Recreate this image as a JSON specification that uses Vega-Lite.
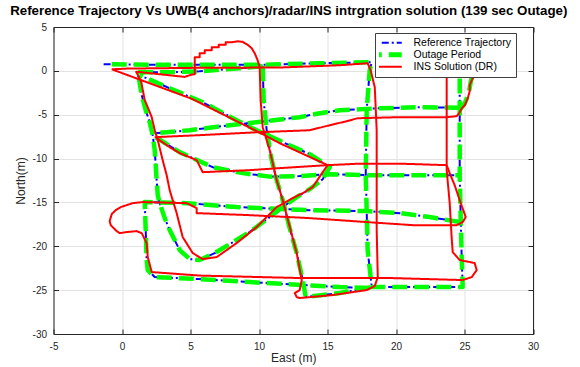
{
  "$schema": "https://vega.github.io/schema/vega-lite/v6.json",
  "width": 479.5,
  "height": 307,
  "autosize": "none",
  "padding": {"left": 53.5, "top": 27, "right": 47, "bottom": 33},
  "background": "white",
  "title": {
    "text": "Reference Trajectory Vs UWB(4 anchors)/radar/INS intrgration solution (139 sec Outage)",
    "font": "Liberation Sans", "fontSize": 13.3, "fontWeight": "bold", "color": "#000000",
    "anchor": "middle", "baseline": "alphabetic", "offset": 1, "dx": -4.5, "dy": 7
  },
  "datasets": {
    "reference": [
      {"s":"Reference Trajectory","g":"b1","E":-1.34,"N":0.75},
      {"s":"Reference Trajectory","g":"b1","E":2.02,"N":0.69},
      {"s":"Reference Trajectory","g":"b1","E":5.67,"N":0.69},
      {"s":"Reference Trajectory","g":"b1","E":10.27,"N":0.69},
      {"s":"Reference Trajectory","g":"b1","E":14.43,"N":0.87},
      {"s":"Reference Trajectory","g":"b1","E":18.23,"N":0.98},
      {"s":"Reference Trajectory","g":"b1","E":18.08,"N":0.07},
      {"s":"Reference Trajectory","g":"b1","E":17.86,"N":-4.49},
      {"s":"Reference Trajectory","g":"b1","E":17.79,"N":-11.89},
      {"s":"Reference Trajectory","g":"b1","E":17.86,"N":-15.88},
      {"s":"Reference Trajectory","g":"b1","E":17.93,"N":-20.43},
      {"s":"Reference Trajectory","g":"b1","E":18.23,"N":-24.65},
      {"s":"Reference Trajectory","g":"b1","E":21.73,"N":-24.65},
      {"s":"Reference Trajectory","g":"b1","E":24.87,"N":-24.65},
      {"s":"Reference Trajectory","g":"b1","E":24.80,"N":-21.57},
      {"s":"Reference Trajectory","g":"b1","E":24.73,"N":-17.24},
      {"s":"Reference Trajectory","g":"b1","E":24.65,"N":-11.89},
      {"s":"Reference Trajectory","g":"b1","E":24.65,"N":-4.26},
      {"s":"Reference Trajectory","g":"b1","E":24.65,"N":0.52},

      {"s":"Reference Trajectory","g":"b2","E":24.65,"N":-4.20},
      {"s":"Reference Trajectory","g":"b2","E":21.73,"N":-4.15},
      {"s":"Reference Trajectory","g":"b2","E":18.81,"N":-4.26},
      {"s":"Reference Trajectory","g":"b2","E":15.89,"N":-4.49},
      {"s":"Reference Trajectory","g":"b2","E":14.43,"N":-4.83},
      {"s":"Reference Trajectory","g":"b2","E":12.97,"N":-5.28},
      {"s":"Reference Trajectory","g":"b2","E":10.42,"N":-5.74},
      {"s":"Reference Trajectory","g":"b2","E":7.86,"N":-6.20},
      {"s":"Reference Trajectory","g":"b2","E":4.94,"N":-6.77},
      {"s":"Reference Trajectory","g":"b2","E":2.39,"N":-7.11},

      {"s":"Reference Trajectory","g":"b3","E":10.27,"N":0.52},
      {"s":"Reference Trajectory","g":"b3","E":8.59,"N":0.30},
      {"s":"Reference Trajectory","g":"b3","E":5.67,"N":-0.05},
      {"s":"Reference Trajectory","g":"b3","E":3.48,"N":-0.16},
      {"s":"Reference Trajectory","g":"b3","E":1.07,"N":-0.16},
      {"s":"Reference Trajectory","g":"b3","E":1.22,"N":-0.73},
      {"s":"Reference Trajectory","g":"b3","E":1.44,"N":-2.78},
      {"s":"Reference Trajectory","g":"b3","E":1.73,"N":-4.49},
      {"s":"Reference Trajectory","g":"b3","E":2.02,"N":-5.85},
      {"s":"Reference Trajectory","g":"b3","E":2.24,"N":-7.34},
      {"s":"Reference Trajectory","g":"b3","E":2.39,"N":-9.04},
      {"s":"Reference Trajectory","g":"b3","E":2.46,"N":-10.75},
      {"s":"Reference Trajectory","g":"b3","E":2.53,"N":-12.46},
      {"s":"Reference Trajectory","g":"b3","E":2.61,"N":-14.17},
      {"s":"Reference Trajectory","g":"b3","E":2.75,"N":-15.08},
      {"s":"Reference Trajectory","g":"b3","E":3.12,"N":-16.79},
      {"s":"Reference Trajectory","g":"b3","E":3.48,"N":-18.15},
      {"s":"Reference Trajectory","g":"b3","E":4.21,"N":-20.43},
      {"s":"Reference Trajectory","g":"b3","E":4.94,"N":-21.46},
      {"s":"Reference Trajectory","g":"b3","E":5.67,"N":-21.57},
      {"s":"Reference Trajectory","g":"b3","E":6.77,"N":-20.77},
      {"s":"Reference Trajectory","g":"b3","E":7.86,"N":-19.75},
      {"s":"Reference Trajectory","g":"b3","E":9.32,"N":-18.38},
      {"s":"Reference Trajectory","g":"b3","E":10.78,"N":-16.67},
      {"s":"Reference Trajectory","g":"b3","E":11.73,"N":-15.53},
      {"s":"Reference Trajectory","g":"b3","E":12.75,"N":-14.40},
      {"s":"Reference Trajectory","g":"b3","E":13.70,"N":-13.49},
      {"s":"Reference Trajectory","g":"b3","E":14.65,"N":-12.35},
      {"s":"Reference Trajectory","g":"b3","E":15.16,"N":-10.98},
      {"s":"Reference Trajectory","g":"b3","E":13.70,"N":-9.50},
      {"s":"Reference Trajectory","g":"b3","E":11.73,"N":-8.13},
      {"s":"Reference Trajectory","g":"b3","E":9.83,"N":-6.77},
      {"s":"Reference Trajectory","g":"b3","E":8.37,"N":-5.63},
      {"s":"Reference Trajectory","g":"b3","E":5.89,"N":-3.58},
      {"s":"Reference Trajectory","g":"b3","E":3.48,"N":-1.98},
      {"s":"Reference Trajectory","g":"b3","E":1.29,"N":-0.50},

      {"s":"Reference Trajectory","g":"b4","E":2.46,"N":-7.57},
      {"s":"Reference Trajectory","g":"b4","E":4.21,"N":-9.27},
      {"s":"Reference Trajectory","g":"b4","E":6.62,"N":-10.98},
      {"s":"Reference Trajectory","g":"b4","E":8.81,"N":-11.66},
      {"s":"Reference Trajectory","g":"b4","E":10.78,"N":-12.06},
      {"s":"Reference Trajectory","g":"b4","E":12.97,"N":-12.00},
      {"s":"Reference Trajectory","g":"b4","E":15.16,"N":-11.78},
      {"s":"Reference Trajectory","g":"b4","E":18.08,"N":-11.89},
      {"s":"Reference Trajectory","g":"b4","E":21.73,"N":-11.89},
      {"s":"Reference Trajectory","g":"b4","E":24.65,"N":-11.89},

      {"s":"Reference Trajectory","g":"b5","E":24.65,"N":-17.24},
      {"s":"Reference Trajectory","g":"b5","E":22.46,"N":-16.67},
      {"s":"Reference Trajectory","g":"b5","E":20.27,"N":-16.22},
      {"s":"Reference Trajectory","g":"b5","E":17.86,"N":-15.99},
      {"s":"Reference Trajectory","g":"b5","E":13.70,"N":-15.88},
      {"s":"Reference Trajectory","g":"b5","E":8.37,"N":-15.53},
      {"s":"Reference Trajectory","g":"b5","E":4.72,"N":-15.08},
      {"s":"Reference Trajectory","g":"b5","E":1.66,"N":-14.96},
      {"s":"Reference Trajectory","g":"b5","E":1.73,"N":-18.15},
      {"s":"Reference Trajectory","g":"b5","E":1.80,"N":-21.57},
      {"s":"Reference Trajectory","g":"b5","E":1.88,"N":-22.71},
      {"s":"Reference Trajectory","g":"b5","E":2.39,"N":-23.51},
      {"s":"Reference Trajectory","g":"b5","E":5.67,"N":-23.74},
      {"s":"Reference Trajectory","g":"b5","E":9.32,"N":-24.08},
      {"s":"Reference Trajectory","g":"b5","E":13.19,"N":-24.42},
      {"s":"Reference Trajectory","g":"b5","E":15.89,"N":-24.65},
      {"s":"Reference Trajectory","g":"b5","E":18.15,"N":-24.76},

      {"s":"Reference Trajectory","g":"b6","E":10.27,"N":0.52},
      {"s":"Reference Trajectory","g":"b6","E":10.34,"N":-3.35},
      {"s":"Reference Trajectory","g":"b6","E":10.56,"N":-6.77},
      {"s":"Reference Trajectory","g":"b6","E":10.93,"N":-10.18},
      {"s":"Reference Trajectory","g":"b6","E":11.29,"N":-12.46},
      {"s":"Reference Trajectory","g":"b6","E":11.73,"N":-14.74},
      {"s":"Reference Trajectory","g":"b6","E":12.24,"N":-17.93},
      {"s":"Reference Trajectory","g":"b6","E":12.75,"N":-20.77},
      {"s":"Reference Trajectory","g":"b6","E":13.19,"N":-23.85},
      {"s":"Reference Trajectory","g":"b6","E":13.41,"N":-25.79},
      {"s":"Reference Trajectory","g":"b6","E":15.89,"N":-25.33},
      {"s":"Reference Trajectory","g":"b6","E":18.30,"N":-24.65}
    ],
    "outage": [
      {"s":"Outage Period","g":"o1","E":-0.75,"N":0.75},
      {"s":"Outage Period","g":"o1","E":2.02,"N":0.69},
      {"s":"Outage Period","g":"o1","E":5.67,"N":0.69},
      {"s":"Outage Period","g":"o1","E":10.27,"N":0.69},
      {"s":"Outage Period","g":"o1","E":14.43,"N":0.87},
      {"s":"Outage Period","g":"o1","E":18.23,"N":0.98},
      {"s":"Outage Period","g":"o1","E":18.08,"N":0.07},
      {"s":"Outage Period","g":"o1","E":17.86,"N":-4.49},
      {"s":"Outage Period","g":"o1","E":17.79,"N":-11.89},
      {"s":"Outage Period","g":"o1","E":17.86,"N":-15.88},
      {"s":"Outage Period","g":"o1","E":17.93,"N":-20.43},
      {"s":"Outage Period","g":"o1","E":18.23,"N":-24.65},
      {"s":"Outage Period","g":"o1","E":21.73,"N":-24.65},
      {"s":"Outage Period","g":"o1","E":24.87,"N":-24.65},
      {"s":"Outage Period","g":"o1","E":24.80,"N":-21.57},
      {"s":"Outage Period","g":"o1","E":24.73,"N":-17.24},
      {"s":"Outage Period","g":"o1","E":24.65,"N":-11.89},
      {"s":"Outage Period","g":"o1","E":24.65,"N":-4.26},
      {"s":"Outage Period","g":"o1","E":24.65,"N":0.52},

      {"s":"Outage Period","g":"o2","E":24.65,"N":-4.20},
      {"s":"Outage Period","g":"o2","E":21.73,"N":-4.15},
      {"s":"Outage Period","g":"o2","E":18.81,"N":-4.26},
      {"s":"Outage Period","g":"o2","E":15.89,"N":-4.49},
      {"s":"Outage Period","g":"o2","E":14.43,"N":-4.83},
      {"s":"Outage Period","g":"o2","E":12.97,"N":-5.28},
      {"s":"Outage Period","g":"o2","E":10.42,"N":-5.74},
      {"s":"Outage Period","g":"o2","E":7.86,"N":-6.20},
      {"s":"Outage Period","g":"o2","E":4.94,"N":-6.77},
      {"s":"Outage Period","g":"o2","E":2.39,"N":-7.11},

      {"s":"Outage Period","g":"o3","E":10.27,"N":0.52},
      {"s":"Outage Period","g":"o3","E":8.59,"N":0.30},
      {"s":"Outage Period","g":"o3","E":5.67,"N":-0.05},
      {"s":"Outage Period","g":"o3","E":3.48,"N":-0.16},
      {"s":"Outage Period","g":"o3","E":1.07,"N":-0.16},
      {"s":"Outage Period","g":"o3","E":1.22,"N":-0.73},
      {"s":"Outage Period","g":"o3","E":1.44,"N":-2.78},
      {"s":"Outage Period","g":"o3","E":1.73,"N":-4.49},
      {"s":"Outage Period","g":"o3","E":2.02,"N":-5.85},
      {"s":"Outage Period","g":"o3","E":2.24,"N":-7.34},
      {"s":"Outage Period","g":"o3","E":2.39,"N":-9.04},
      {"s":"Outage Period","g":"o3","E":2.46,"N":-10.75},
      {"s":"Outage Period","g":"o3","E":2.53,"N":-12.46},
      {"s":"Outage Period","g":"o3","E":2.61,"N":-14.17},
      {"s":"Outage Period","g":"o3","E":2.75,"N":-15.08},
      {"s":"Outage Period","g":"o3","E":3.12,"N":-16.79},
      {"s":"Outage Period","g":"o3","E":3.48,"N":-18.15},
      {"s":"Outage Period","g":"o3","E":4.21,"N":-20.43},
      {"s":"Outage Period","g":"o3","E":4.94,"N":-21.46},
      {"s":"Outage Period","g":"o3","E":5.67,"N":-21.57},
      {"s":"Outage Period","g":"o3","E":6.77,"N":-20.77},
      {"s":"Outage Period","g":"o3","E":7.86,"N":-19.75},
      {"s":"Outage Period","g":"o3","E":9.32,"N":-18.38},
      {"s":"Outage Period","g":"o3","E":10.78,"N":-16.67},
      {"s":"Outage Period","g":"o3","E":11.73,"N":-15.53},
      {"s":"Outage Period","g":"o3","E":12.75,"N":-14.40},
      {"s":"Outage Period","g":"o3","E":13.70,"N":-13.49},
      {"s":"Outage Period","g":"o3","E":14.65,"N":-12.35},
      {"s":"Outage Period","g":"o3","E":15.16,"N":-10.98},
      {"s":"Outage Period","g":"o3","E":13.70,"N":-9.50},
      {"s":"Outage Period","g":"o3","E":11.73,"N":-8.13},
      {"s":"Outage Period","g":"o3","E":9.83,"N":-6.77},
      {"s":"Outage Period","g":"o3","E":8.37,"N":-5.63},
      {"s":"Outage Period","g":"o3","E":5.89,"N":-3.58},
      {"s":"Outage Period","g":"o3","E":3.48,"N":-1.98},
      {"s":"Outage Period","g":"o3","E":1.29,"N":-0.50},

      {"s":"Outage Period","g":"o4","E":2.46,"N":-7.57},
      {"s":"Outage Period","g":"o4","E":4.21,"N":-9.27},
      {"s":"Outage Period","g":"o4","E":6.62,"N":-10.98},
      {"s":"Outage Period","g":"o4","E":8.81,"N":-11.66},
      {"s":"Outage Period","g":"o4","E":10.78,"N":-12.06},
      {"s":"Outage Period","g":"o4","E":12.97,"N":-12.00},
      {"s":"Outage Period","g":"o4","E":15.16,"N":-11.78},
      {"s":"Outage Period","g":"o4","E":18.08,"N":-11.89},
      {"s":"Outage Period","g":"o4","E":21.73,"N":-11.89},
      {"s":"Outage Period","g":"o4","E":24.65,"N":-11.89},

      {"s":"Outage Period","g":"o5","E":24.65,"N":-17.24},
      {"s":"Outage Period","g":"o5","E":22.46,"N":-16.67},
      {"s":"Outage Period","g":"o5","E":20.27,"N":-16.22},
      {"s":"Outage Period","g":"o5","E":17.86,"N":-15.99},
      {"s":"Outage Period","g":"o5","E":13.70,"N":-15.88},
      {"s":"Outage Period","g":"o5","E":8.37,"N":-15.53},
      {"s":"Outage Period","g":"o5","E":4.72,"N":-15.08},
      {"s":"Outage Period","g":"o5","E":1.66,"N":-14.96},
      {"s":"Outage Period","g":"o5","E":1.73,"N":-18.15},
      {"s":"Outage Period","g":"o5","E":1.80,"N":-21.57},
      {"s":"Outage Period","g":"o5","E":1.88,"N":-22.71},
      {"s":"Outage Period","g":"o5","E":2.39,"N":-23.51},
      {"s":"Outage Period","g":"o5","E":5.67,"N":-23.74},
      {"s":"Outage Period","g":"o5","E":9.32,"N":-24.08},
      {"s":"Outage Period","g":"o5","E":13.19,"N":-24.42},
      {"s":"Outage Period","g":"o5","E":15.89,"N":-24.65},
      {"s":"Outage Period","g":"o5","E":18.15,"N":-24.76},

      {"s":"Outage Period","g":"o6","E":10.27,"N":0.52},
      {"s":"Outage Period","g":"o6","E":10.34,"N":-3.35},
      {"s":"Outage Period","g":"o6","E":10.56,"N":-6.77},
      {"s":"Outage Period","g":"o6","E":10.93,"N":-10.18},
      {"s":"Outage Period","g":"o6","E":11.29,"N":-12.46},
      {"s":"Outage Period","g":"o6","E":11.73,"N":-14.74},
      {"s":"Outage Period","g":"o6","E":12.24,"N":-17.93},
      {"s":"Outage Period","g":"o6","E":12.75,"N":-20.77},
      {"s":"Outage Period","g":"o6","E":13.19,"N":-23.85},
      {"s":"Outage Period","g":"o6","E":13.41,"N":-25.79},
      {"s":"Outage Period","g":"o6","E":15.89,"N":-25.33},
      {"s":"Outage Period","g":"o6","E":18.30,"N":-24.65},

      {"s":"Outage Period","g":"o7","E":24.65,"N":-4.49},
      {"s":"Outage Period","g":"o7","E":25.02,"N":-3.69},
      {"s":"Outage Period","g":"o7","E":25.31,"N":-2.55},
      {"s":"Outage Period","g":"o7","E":25.45,"N":-1.31},
      {"s":"Outage Period","g":"o7","E":25.60,"N":-0.27},
      {"s":"Outage Period","g":"o7","E":25.82,"N":0.52}
    ],
    "ins": [
      {"s":"INS Solution (DR)","g":"r1","E":-0.75,"N":0.18},
      {"s":"INS Solution (DR)","g":"r1","E":0.42,"N":0.26},
      {"s":"INS Solution (DR)","g":"r1","E":5.67,"N":0.35},
      {"s":"INS Solution (DR)","g":"r1","E":11.51,"N":0.38},
      {"s":"INS Solution (DR)","g":"r1","E":15.89,"N":0.64},
      {"s":"INS Solution (DR)","g":"r1","E":17.93,"N":0.87},
      {"s":"INS Solution (DR)","g":"r1","E":18.15,"N":0.07},
      {"s":"INS Solution (DR)","g":"r1","E":18.45,"N":-1.87},
      {"s":"INS Solution (DR)","g":"r1","E":18.59,"N":-6.77},
      {"s":"INS Solution (DR)","g":"r1","E":18.59,"N":-12.46},
      {"s":"INS Solution (DR)","g":"r1","E":18.59,"N":-18.15},
      {"s":"INS Solution (DR)","g":"r1","E":18.67,"N":-23.51},
      {"s":"INS Solution (DR)","g":"r1","E":18.45,"N":-24.53},
      {"s":"INS Solution (DR)","g":"r1","E":17.86,"N":-24.99},
      {"s":"INS Solution (DR)","g":"r1","E":15.38,"N":-25.56},
      {"s":"INS Solution (DR)","g":"r1","E":12.97,"N":-25.90},
      {"s":"INS Solution (DR)","g":"r1","E":12.75,"N":-25.79},
      {"s":"INS Solution (DR)","g":"r1","E":12.61,"N":-25.33},
      {"s":"INS Solution (DR)","g":"r1","E":12.97,"N":-24.99},
      {"s":"INS Solution (DR)","g":"r1","E":13.12,"N":-23.85},
      {"s":"INS Solution (DR)","g":"r1","E":12.75,"N":-20.77},
      {"s":"INS Solution (DR)","g":"r1","E":11.73,"N":-14.74},
      {"s":"INS Solution (DR)","g":"r1","E":11.29,"N":-12.46},
      {"s":"INS Solution (DR)","g":"r1","E":10.78,"N":-9.04},
      {"s":"INS Solution (DR)","g":"r1","E":10.27,"N":-6.42},
      {"s":"INS Solution (DR)","g":"r1","E":10.12,"N":-3.35},
      {"s":"INS Solution (DR)","g":"r1","E":10.05,"N":0.41},
      {"s":"INS Solution (DR)","g":"r1","E":9.90,"N":1.21},
      {"s":"INS Solution (DR)","g":"r1","E":9.69,"N":2.00},
      {"s":"INS Solution (DR)","g":"r1","E":9.47,"N":2.57},
      {"s":"INS Solution (DR)","g":"r1","E":9.18,"N":2.97},
      {"s":"INS Solution (DR)","g":"r1","E":8.81,"N":3.31},
      {"s":"INS Solution (DR)","g":"r1","E":8.45,"N":3.37},
      {"s":"INS Solution (DR)","g":"r1","E":8.01,"N":3.26},
      {"s":"INS Solution (DR)","g":"r1","E":7.57,"N":3.26},
      {"s":"INS Solution (DR)","g":"r1","E":7.57,"N":2.97},
      {"s":"INS Solution (DR)","g":"r1","E":7.06,"N":2.97},
      {"s":"INS Solution (DR)","g":"r1","E":7.06,"N":2.69},
      {"s":"INS Solution (DR)","g":"r1","E":6.55,"N":2.69},
      {"s":"INS Solution (DR)","g":"r1","E":6.55,"N":2.35},
      {"s":"INS Solution (DR)","g":"r1","E":6.04,"N":2.35},
      {"s":"INS Solution (DR)","g":"r1","E":6.04,"N":2.00},
      {"s":"INS Solution (DR)","g":"r1","E":5.67,"N":2.00},
      {"s":"INS Solution (DR)","g":"r1","E":5.67,"N":1.55},
      {"s":"INS Solution (DR)","g":"r1","E":5.31,"N":1.55},
      {"s":"INS Solution (DR)","g":"r1","E":5.31,"N":-0.39},
      {"s":"INS Solution (DR)","g":"r1","E":5.09,"N":-0.42},
      {"s":"INS Solution (DR)","g":"r1","E":4.58,"N":-0.69},
      {"s":"INS Solution (DR)","g":"r1","E":1.04,"N":-0.10},
      {"s":"INS Solution (DR)","g":"r1","E":1.40,"N":-1.24},
      {"s":"INS Solution (DR)","g":"r1","E":1.66,"N":-3.35},
      {"s":"INS Solution (DR)","g":"r1","E":1.88,"N":-4.15},
      {"s":"INS Solution (DR)","g":"r1","E":2.17,"N":-5.28},
      {"s":"INS Solution (DR)","g":"r1","E":2.39,"N":-6.77},
      {"s":"INS Solution (DR)","g":"r1","E":2.61,"N":-7.90},
      {"s":"INS Solution (DR)","g":"r1","E":2.97,"N":-10.18},
      {"s":"INS Solution (DR)","g":"r1","E":3.26,"N":-11.89},
      {"s":"INS Solution (DR)","g":"r1","E":3.48,"N":-13.60},
      {"s":"INS Solution (DR)","g":"r1","E":3.99,"N":-16.22},
      {"s":"INS Solution (DR)","g":"r1","E":4.43,"N":-18.95},
      {"s":"INS Solution (DR)","g":"r1","E":5.16,"N":-20.77},
      {"s":"INS Solution (DR)","g":"r1","E":5.89,"N":-21.46},
      {"s":"INS Solution (DR)","g":"r1","E":6.91,"N":-21.23},
      {"s":"INS Solution (DR)","g":"r1","E":8.37,"N":-19.63},
      {"s":"INS Solution (DR)","g":"r1","E":9.83,"N":-17.81},
      {"s":"INS Solution (DR)","g":"r1","E":11.29,"N":-15.53},
      {"s":"INS Solution (DR)","g":"r1","E":12.46,"N":-14.51},
      {"s":"INS Solution (DR)","g":"r1","E":13.19,"N":-13.94},
      {"s":"INS Solution (DR)","g":"r1","E":13.92,"N":-13.26},
      {"s":"INS Solution (DR)","g":"r1","E":14.65,"N":-11.55},
      {"s":"INS Solution (DR)","g":"r1","E":15.01,"N":-10.75},
      {"s":"INS Solution (DR)","g":"r1","E":11.51,"N":-8.25},
      {"s":"INS Solution (DR)","g":"r1","E":10.27,"N":-7.22},
      {"s":"INS Solution (DR)","g":"r1","E":5.09,"N":-3.18},
      {"s":"INS Solution (DR)","g":"r1","E":-0.75,"N":0.18},

      {"s":"INS Solution (DR)","g":"r2","E":24.87,"N":-23.85},
      {"s":"INS Solution (DR)","g":"r2","E":19.54,"N":-23.62},
      {"s":"INS Solution (DR)","g":"r2","E":12.97,"N":-23.62},
      {"s":"INS Solution (DR)","g":"r2","E":5.67,"N":-23.34},
      {"s":"INS Solution (DR)","g":"r2","E":2.17,"N":-22.94},
      {"s":"INS Solution (DR)","g":"r2","E":1.88,"N":-21.23},
      {"s":"INS Solution (DR)","g":"r2","E":1.80,"N":-19.63},
      {"s":"INS Solution (DR)","g":"r2","E":1.44,"N":-18.50},
      {"s":"INS Solution (DR)","g":"r2","E":1.07,"N":-18.27},
      {"s":"INS Solution (DR)","g":"r2","E":0.34,"N":-18.38},
      {"s":"INS Solution (DR)","g":"r2","E":-0.17,"N":-18.50},
      {"s":"INS Solution (DR)","g":"r2","E":-0.39,"N":-18.27},
      {"s":"INS Solution (DR)","g":"r2","E":-0.61,"N":-17.93},
      {"s":"INS Solution (DR)","g":"r2","E":-0.82,"N":-17.59},
      {"s":"INS Solution (DR)","g":"r2","E":-0.90,"N":-17.13},
      {"s":"INS Solution (DR)","g":"r2","E":-0.75,"N":-16.33},
      {"s":"INS Solution (DR)","g":"r2","E":-0.46,"N":-15.88},
      {"s":"INS Solution (DR)","g":"r2","E":-0.09,"N":-15.53},
      {"s":"INS Solution (DR)","g":"r2","E":0.34,"N":-15.31},
      {"s":"INS Solution (DR)","g":"r2","E":0.78,"N":-15.08},
      {"s":"INS Solution (DR)","g":"r2","E":1.51,"N":-14.96},
      {"s":"INS Solution (DR)","g":"r2","E":4.72,"N":-15.08},
      {"s":"INS Solution (DR)","g":"r2","E":5.45,"N":-15.65},
      {"s":"INS Solution (DR)","g":"r2","E":5.45,"N":-16.22},
      {"s":"INS Solution (DR)","g":"r2","E":9.32,"N":-16.45},
      {"s":"INS Solution (DR)","g":"r2","E":13.70,"N":-16.79},
      {"s":"INS Solution (DR)","g":"r2","E":17.86,"N":-17.24},
      {"s":"INS Solution (DR)","g":"r2","E":21.22,"N":-17.59},
      {"s":"INS Solution (DR)","g":"r2","E":24.43,"N":-17.59},
      {"s":"INS Solution (DR)","g":"r2","E":24.87,"N":-17.24},
      {"s":"INS Solution (DR)","g":"r2","E":25.09,"N":-16.67},
      {"s":"INS Solution (DR)","g":"r2","E":24.65,"N":-14.74},
      {"s":"INS Solution (DR)","g":"r2","E":24.28,"N":-13.03},
      {"s":"INS Solution (DR)","g":"r2","E":23.92,"N":-11.66},
      {"s":"INS Solution (DR)","g":"r2","E":23.70,"N":-10.75},

      {"s":"INS Solution (DR)","g":"r3","E":23.70,"N":0.52},
      {"s":"INS Solution (DR)","g":"r3","E":23.70,"N":-5.28},
      {"s":"INS Solution (DR)","g":"r3","E":23.70,"N":-10.75},
      {"s":"INS Solution (DR)","g":"r3","E":23.70,"N":-11.32},
      {"s":"INS Solution (DR)","g":"r3","E":23.92,"N":-15.08},
      {"s":"INS Solution (DR)","g":"r3","E":24.06,"N":-18.95},
      {"s":"INS Solution (DR)","g":"r3","E":24.14,"N":-20.66},
      {"s":"INS Solution (DR)","g":"r3","E":24.65,"N":-21.57},
      {"s":"INS Solution (DR)","g":"r3","E":25.74,"N":-21.91},
      {"s":"INS Solution (DR)","g":"r3","E":25.89,"N":-22.71},
      {"s":"INS Solution (DR)","g":"r3","E":25.53,"N":-23.51},
      {"s":"INS Solution (DR)","g":"r3","E":24.87,"N":-23.85},

      {"s":"INS Solution (DR)","g":"r4","E":2.53,"N":-7.68},
      {"s":"INS Solution (DR)","g":"r4","E":3.48,"N":-8.70},
      {"s":"INS Solution (DR)","g":"r4","E":4.21,"N":-9.38},
      {"s":"INS Solution (DR)","g":"r4","E":5.45,"N":-10.18},
      {"s":"INS Solution (DR)","g":"r4","E":5.89,"N":-11.55},
      {"s":"INS Solution (DR)","g":"r4","E":9.32,"N":-11.32},
      {"s":"INS Solution (DR)","g":"r4","E":11.51,"N":-11.09},
      {"s":"INS Solution (DR)","g":"r4","E":15.01,"N":-10.75},
      {"s":"INS Solution (DR)","g":"r4","E":17.35,"N":-10.58},
      {"s":"INS Solution (DR)","g":"r4","E":20.27,"N":-10.58},
      {"s":"INS Solution (DR)","g":"r4","E":23.70,"N":-10.75},

      {"s":"INS Solution (DR)","g":"r5","E":2.39,"N":-7.56},
      {"s":"INS Solution (DR)","g":"r5","E":5.67,"N":-7.33},
      {"s":"INS Solution (DR)","g":"r5","E":10.05,"N":-6.99},
      {"s":"INS Solution (DR)","g":"r5","E":13.70,"N":-6.77},
      {"s":"INS Solution (DR)","g":"r5","E":15.16,"N":-6.20},
      {"s":"INS Solution (DR)","g":"r5","E":16.11,"N":-5.85},
      {"s":"INS Solution (DR)","g":"r5","E":17.21,"N":-5.40},
      {"s":"INS Solution (DR)","g":"r5","E":20.27,"N":-5.28},
      {"s":"INS Solution (DR)","g":"r5","E":23.70,"N":-5.28},
      {"s":"INS Solution (DR)","g":"r5","E":24.43,"N":-5.17},
      {"s":"INS Solution (DR)","g":"r5","E":24.65,"N":-4.72},
      {"s":"INS Solution (DR)","g":"r5","E":24.80,"N":-4.26},
      {"s":"INS Solution (DR)","g":"r5","E":25.02,"N":-3.92},
      {"s":"INS Solution (DR)","g":"r5","E":25.24,"N":-3.12},
      {"s":"INS Solution (DR)","g":"r5","E":25.38,"N":-2.32},
      {"s":"INS Solution (DR)","g":"r5","E":25.38,"N":-1.64},
      {"s":"INS Solution (DR)","g":"r5","E":25.53,"N":-1.07},
      {"s":"INS Solution (DR)","g":"r5","E":25.74,"N":-0.50},
      {"s":"INS Solution (DR)","g":"r5","E":26.04,"N":-0.05},
      {"s":"INS Solution (DR)","g":"r5","E":26.48,"N":0.52}
    ]
  },
  "layer": [
    {
      "layer": [
        {
          "data": {"name": "reference"},
          "mark": {"type": "line", "strokeWidth": 2, "strokeCap": "butt", "strokeJoin": "round"},
          "encoding": {
            "x": {"field": "E", "type": "quantitative", "scale": {"domain": [-5, 30], "nice": false, "zero": false},
                  "axis": {"orient": "bottom", "values": [-5, 0, 5, 10, 15, 20, 25, 30], "title": "East (m)", "grid": true, "labelExpr": "'' + datum.value"}},
            "y": {"field": "N", "type": "quantitative", "scale": {"domain": [-30, 5], "nice": false, "zero": false},
                  "axis": {"orient": "left", "values": [-30, -25, -20, -15, -10, -5, 0, 5], "title": "North(m)", "grid": true, "labelExpr": "'' + datum.value"}},
            "detail": {"field": "g"},
            "order": {"value": null},
            "color": {"field": "s", "type": "nominal",
                      "scale": {"domain": ["Reference Trajectory", "Outage Period", "INS Solution (DR)"], "range": ["#0000ff", "#00ff00", "#ff0000"]},
                      "legend": {"title": null, "orient": "none", "legendX": 321.5, "legendY": 6, "fillColor": "white", "strokeColor": "#404040",
                                 "padding": 4, "symbolType": "stroke", "symbolSize": 1225, "clipHeight": 11.5, "rowPadding": 0,
                                 "labelFont": "Liberation Sans", "labelFontSize": 10.5, "labelColor": "#000000", "labelOffset": 24,
                                 "encode": {"symbols": {"update": {"strokeWidth": {"signal": "datum.value === 'Outage Period' ? 5 : 2"}}}}}},
            "strokeDash": {"field": "s", "type": "nominal",
                           "scale": {"domain": ["Reference Trajectory", "Outage Period", "INS Solution (DR)"], "range": [[7, 3, 2, 3], [15, 7], [1, 0]]},
                           "legend": {"title": null, "orient": "none", "legendX": 321.5, "legendY": 6, "fillColor": "white", "strokeColor": "#404040",
                                      "padding": 4, "symbolType": "stroke", "symbolSize": 1225, "clipHeight": 11.5, "rowPadding": 0,
                                      "labelFont": "Liberation Sans", "labelFontSize": 10.5, "labelColor": "#000000", "labelOffset": 24}}
          }
        },
        {
          "data": {"name": "outage"},
          "mark": {"type": "line", "strokeWidth": 4.5, "strokeCap": "butt", "strokeJoin": "round"},
          "encoding": {
            "x": {"field": "E", "type": "quantitative"},
            "y": {"field": "N", "type": "quantitative"},
            "detail": {"field": "g"},
            "order": {"value": null},
            "color": {"field": "s", "type": "nominal"},
            "strokeDash": {"field": "s", "type": "nominal"}
          }
        }
      ]
    },
    {
      "data": {"name": "ins"},
      "mark": {"type": "line", "strokeWidth": 2, "strokeJoin": "round"},
      "encoding": {
        "x": {"field": "E", "type": "quantitative", "scale": {"domain": [-5, 30], "nice": false, "zero": false},
              "axis": {"orient": "top", "values": [-5, 0, 5, 10, 15, 20, 25, 30], "title": null, "labels": false, "grid": false}},
        "y": {"field": "N", "type": "quantitative", "scale": {"domain": [-30, 5], "nice": false, "zero": false},
              "axis": {"orient": "right", "values": [-30, -25, -20, -15, -10, -5, 0, 5], "title": null, "labels": false, "grid": false}},
        "detail": {"field": "g"},
        "order": {"value": null},
        "color": {"field": "s", "type": "nominal"},
        "strokeDash": {"field": "s", "type": "nominal"}
      }
    }
  ],
  "resolve": {"scale": {"x": "independent", "y": "independent"}, "axis": {"x": "independent", "y": "independent"}},
  "config": {
    "font": "Liberation Sans",
    "view": {"stroke": null},
    "axis": {
      "domainColor": "#262626", "domainWidth": 1, "tickColor": "#262626", "tickWidth": 1, "tickSize": -5,
      "labelFont": "Liberation Sans", "labelFontSize": 10, "labelColor": "#262626", "labelPadding": 12,
      "labelFlush": false, "labelOverlap": false,
      "gridColor": "#e3e3e3", "gridWidth": 1,
      "titleFont": "Liberation Sans", "titleFontSize": 12, "titleFontWeight": "normal", "titleColor": "#262626"
    },
    "axisX": {"titlePadding": 1},
    "axisY": {"titlePadding": 5}
  }
}
